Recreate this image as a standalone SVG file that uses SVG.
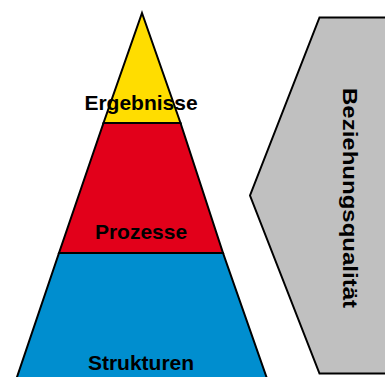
<svg xmlns="http://www.w3.org/2000/svg" width="385" height="377" viewBox="0 0 385 377">
<style>
.lvl{stroke:#000;stroke-width:2;stroke-linejoin:miter}
.lbl{font-family:"Liberation Sans",Arial,sans-serif;font-weight:bold;font-size:21px;fill:#000;text-anchor:middle}
</style>
<rect width="385" height="377" fill="#fff"/>
<g id="beziehungsqualitaet">
<polygon class="lvl" points="319.5,17.5 390,17.5 390,373.5 319.5,373.5 250,195.5" fill="#c0c0c0"/>
<text class="lbl" transform="translate(342.5,198) rotate(90)" x="0" y="0" textLength="220" lengthAdjust="spacingAndGlyphs">Beziehungsqualität</text>
</g>
<g id="strukturen">
<polygon class="lvl" points="59,253 223,253 267.5,380 16,380" fill="#008ecf"/>
<text class="lbl" x="141" y="370">Strukturen</text>
</g>
<g id="prozesse">
<polygon class="lvl" points="103.5,123 180.5,123 223,253 59,253" fill="#e2001a"/>
<text class="lbl" x="141" y="238.5">Prozesse</text>
</g>
<g id="ergebnisse">
<polygon class="lvl" points="142,13 180.5,123 103.5,123" fill="#ffdd00"/>
<text class="lbl" x="141" y="109.5">Ergebnisse</text>
</g>
<g id="connectors"></g>
</svg>
